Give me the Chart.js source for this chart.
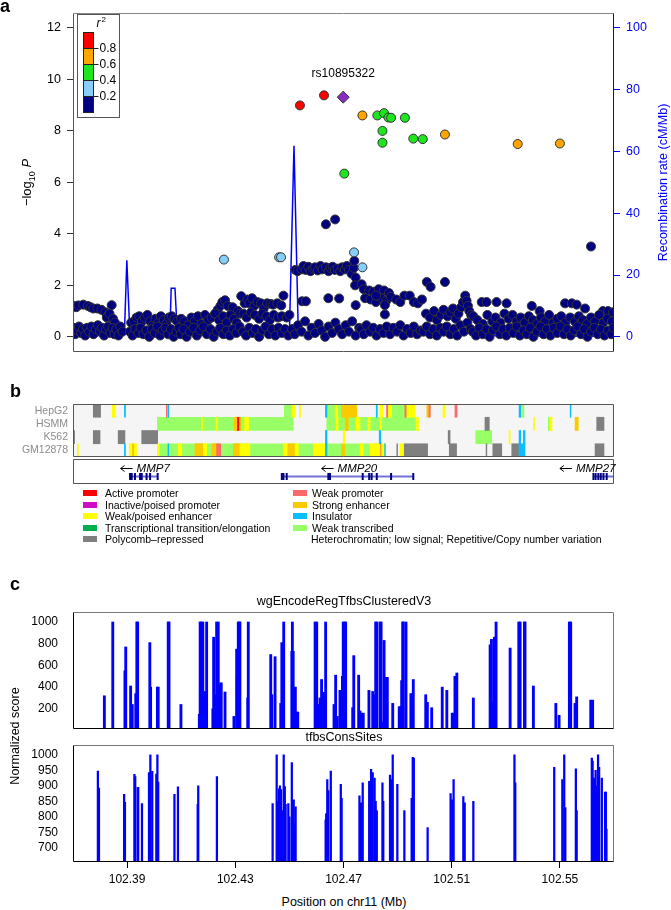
<!DOCTYPE html>
<html>
<head>
<meta charset="utf-8">
<script src="https://cdn.jsdelivr.net/npm/chart.js@4.4.1/dist/chart.umd.min.js"></script>
<style>
body { margin: 0; background: #fff; font-family: "Liberation Sans", Arial, sans-serif; }
#page { position: relative; width: 671px; height: 910px; overflow: hidden; }
canvas { position: absolute; left: 0; }
.txt { position: absolute; white-space: nowrap; color: #000; }
.panel { font-weight: bold; font-size: 18px; }
.leg { position: absolute; font-size: 10.5px; line-height: 12px; white-space: nowrap; }
.sw { position: absolute; width: 14px; height: 6px; }
</style>
</head>
<body>
<div id="page">
  <canvas id="gwas" width="671" height="366" style="top:0"></canvas>
  <canvas id="states" width="671" height="65" style="top:398px"></canvas>
  <canvas id="genes" width="671" height="30" style="top:457px"></canvas>
  <canvas id="tfbsTop" width="671" height="129" style="top:606px"></canvas>
  <canvas id="tfbsBottom" width="671" height="153" style="top:739px"></canvas>

  <div class="txt panel" style="left:0;top:-4px">a</div>
  <div class="txt panel" style="left:10px;top:381px">b</div>
  <div class="txt panel" style="left:10px;top:574px">c</div>

  <div id="legend"></div>

  <div class="txt" style="left:144px;width:400px;text-align:center;top:594px;font-size:12.5px">wgEncodeRegTfbsClusteredV3</div>
  <div class="txt" style="left:144px;width:400px;text-align:center;top:730px;font-size:12.5px">tfbsConsSites</div>
  <div class="txt" style="left:144px;width:400px;text-align:center;top:895px;font-size:12.5px">Position on chr11 (Mb)</div>
  <div class="txt" style="left:-85px;width:200px;text-align:center;top:729px;font-size:12.5px;transform:rotate(-90deg)">Normalized score</div>
</div>

<script>
// ---- region shown (Mb on chr11) ----
const regionStart = 102.37;
const regionEnd = 102.57;
const positionTicks = [102.39, 102.43, 102.47, 102.51, 102.55];

// ---- panel a: association, [position Mb, -log10 P] ----
const leadSnp = [[102.4699, 9.31]];
const ldRed = [[102.4539, 8.99], [102.4628, 9.38]];
const ldOrange = [[102.4770, 8.6], [102.5075, 7.86], [102.5344, 7.49], [102.5500, 7.51]];
const ldGreen = [[102.4825, 8.6], [102.4850, 8.69], [102.4866, 8.52], [102.4876, 8.51], [102.4927, 8.51],
  [102.4844, 8.0], [102.4844, 7.54], [102.4958, 7.7], [102.4993, 7.68], [102.4703, 6.34]];
const ldLightBlue = [[102.4258, 3.0], [102.4462, 3.09], [102.4469, 3.09], [102.4739, 3.28], [102.4770, 2.7]];
const ldNavy = [
  // left end
  [102.3700, 1.18], [102.3705, 1.2], [102.3712, 1.15], [102.3720, 1.22], [102.3738, 1.25], [102.3755, 1.2], [102.3765, 1.15],
  [102.3775, 1.1], [102.3790, 1.1], [102.3805, 1.05], [102.3843, 1.23], [102.3820, 0.95], [102.3830, 0.85], [102.3825, 0.75],
  [102.3835, 0.9], [102.3848, 0.7], [102.3855, 0.55],
  [102.3703, 0.35], [102.3708, 0.1], [102.3716, 0.25], [102.3722, 0.4], [102.3730, 0.15], [102.3737, 0.3], [102.3745, 0.05],
  [102.3752, 0.35], [102.3760, 0.2], [102.3768, 0.4], [102.3776, 0.1], [102.3784, 0.3], [102.3792, 0.45], [102.3800, 0.2],
  [102.3808, 0.35], [102.3815, 0.05], [102.3822, 0.3], [102.3830, 0.4], [102.3838, 0.15], [102.3846, 0.35], [102.3853, 0.1],
  [102.3860, 0.3], [102.3868, 0.05], [102.3875, 0.4], [102.3883, 0.2],
  // 102.39 - 102.41
  [102.3915, 0.55], [102.3925, 0.6], [102.3935, 0.75], [102.3945, 0.8], [102.3955, 0.6], [102.3965, 0.75], [102.3975, 0.85],
  [102.3985, 0.6], [102.3995, 0.45], [102.4005, 0.7], [102.4015, 0.55], [102.4025, 0.8], [102.4035, 0.65], [102.4045, 0.5],
  [102.4055, 0.75], [102.4065, 0.8], [102.4075, 0.7], [102.4085, 0.6],
  [102.3910, 0.2], [102.3920, 0.05], [102.3930, 0.3], [102.3942, 0.15], [102.3950, 0.35], [102.3960, 0.1], [102.3972, 0.25],
  [102.3982, 0.0], [102.3992, 0.3], [102.4002, 0.15], [102.4012, 0.4], [102.4022, 0.05], [102.4032, 0.25], [102.4042, 0.35],
  [102.4052, 0.1], [102.4062, 0.3], [102.4072, 0.0], [102.4082, 0.2], [102.4092, 0.35],
  // 102.41 - 102.432
  [102.4235, 1.05], [102.4245, 1.2], [102.4252, 1.35], [102.4262, 1.42], [102.4272, 1.2], [102.4290, 1.15], [102.4310, 1.0],
  [102.4322, 1.58],
  [102.4100, 0.7], [102.4112, 0.6], [102.4125, 0.45], [102.4138, 0.75], [102.4150, 0.6], [102.4162, 0.8], [102.4175, 0.5],
  [102.4188, 0.85], [102.4200, 0.65], [102.4212, 0.75], [102.4225, 0.9], [102.4240, 0.65], [102.4255, 0.8], [102.4268, 0.55],
  [102.4282, 0.85], [102.4295, 0.7], [102.4305, 0.55], [102.4318, 0.9],
  [102.4098, 0.1], [102.4108, 0.3], [102.4120, 0.0], [102.4132, 0.2], [102.4145, 0.35], [102.4158, 0.05], [102.4170, 0.25],
  [102.4182, 0.4], [102.4195, 0.1], [102.4208, 0.3], [102.4220, 0.0], [102.4232, 0.2], [102.4244, 0.35], [102.4256, 0.1],
  [102.4268, 0.25], [102.4280, 0.05], [102.4292, 0.3], [102.4304, 0.15], [102.4316, 0.4],
  // 102.432 - 102.45
  [102.4335, 1.3], [102.4345, 1.45], [102.4352, 1.3], [102.4362, 1.5], [102.4370, 1.2], [102.4382, 1.35], [102.4395, 1.3],
  [102.4405, 1.1], [102.4418, 1.3], [102.4430, 1.28], [102.4440, 1.25], [102.4455, 1.3], [102.4470, 1.22], [102.4478, 1.6],
  [102.4330, 0.9], [102.4342, 0.75], [102.4358, 0.95], [102.4372, 0.85], [102.4388, 0.7], [102.4400, 0.9], [102.4415, 0.8],
  [102.4428, 0.65], [102.4442, 0.85], [102.4458, 0.75], [102.4472, 0.8], [102.4490, 0.75], [102.4500, 0.85],
  [102.4328, 0.2], [102.4340, 0.05], [102.4352, 0.35], [102.4364, 0.15], [102.4376, 0.3], [102.4388, 0.0], [102.4400, 0.25],
  [102.4412, 0.4], [102.4424, 0.1], [102.4436, 0.3], [102.4448, 0.05], [102.4460, 0.35], [102.4472, 0.15], [102.4484, 0.3],
  [102.4496, 0.05],
  // band near the lead SNP
  [102.4522, 2.6], [102.4530, 2.55], [102.4545, 2.62], [102.4552, 2.75], [102.4560, 2.6], [102.4570, 2.72], [102.4578, 2.55],
  [102.4588, 2.65], [102.4595, 2.7], [102.4605, 2.58], [102.4615, 2.75], [102.4622, 2.62], [102.4635, 2.7], [102.4645, 2.55],
  [102.4652, 2.68], [102.4660, 2.72], [102.4668, 2.6], [102.4678, 2.65], [102.4688, 2.55], [102.4695, 2.7], [102.4705, 2.62],
  [102.4712, 2.75], [102.4720, 2.6], [102.4730, 2.45], [102.4738, 2.68], [102.4740, 2.95], [102.4745, 2.3],
  [102.4635, 4.37], [102.4669, 4.56],
  [102.4547, 1.38], [102.4561, 1.38], [102.4644, 1.5], [102.4684, 1.49], [102.4743, 2.0], [102.4767, 2.04], [102.4745, 1.23],
  [102.4510, 0.3], [102.4520, 0.1], [102.4532, 0.45], [102.4545, 0.2], [102.4558, 0.6], [102.4570, 0.05], [102.4582, 0.35],
  [102.4595, 0.15], [102.4608, 0.5], [102.4620, 0.25], [102.4632, 0.0], [102.4645, 0.4], [102.4658, 0.15], [102.4670, 0.55],
  [102.4682, 0.3], [102.4695, 0.1], [102.4708, 0.45], [102.4720, 0.2], [102.4732, 0.6], [102.4745, 0.05], [102.4758, 0.35],
  // 102.476 - 102.50
  [102.4775, 1.85], [102.4795, 1.8], [102.4810, 1.75], [102.4830, 1.85], [102.4850, 1.8], [102.4868, 1.7],
  [102.4780, 1.5], [102.4800, 1.45], [102.4820, 1.35], [102.4840, 1.5], [102.4858, 1.4], [102.4875, 1.55], [102.4895, 1.45],
  [102.4910, 1.35], [102.4925, 1.6], [102.4945, 1.6], [102.4960, 1.35], [102.4975, 1.3], [102.4853, 1.23], [102.4853, 0.87],
  [102.4820, 1.6], [102.4990, 1.45],
  [102.4765, 0.3], [102.4775, 0.1], [102.4785, 0.45], [102.4798, 0.2], [102.4810, 0.35], [102.4822, 0.05], [102.4835, 0.3],
  [102.4848, 0.15], [102.4860, 0.4], [102.4872, 0.1], [102.4885, 0.35], [102.4898, 0.2], [102.4910, 0.45], [102.4922, 0.05],
  [102.4935, 0.3], [102.4948, 0.15], [102.4960, 0.4], [102.4972, 0.1], [102.4985, 0.25],
  // 102.50 - 102.517
  [102.5008, 2.13], [102.5022, 1.94], [102.5075, 2.13],
  [102.5005, 0.9], [102.5020, 0.75], [102.5035, 1.0], [102.5045, 0.65], [102.5060, 0.85], [102.5070, 1.05], [102.5085, 0.8],
  [102.5095, 0.95], [102.5105, 1.1], [102.5115, 0.7], [102.5125, 0.9], [102.5135, 1.15], [102.5142, 1.35], [102.5150, 1.6],
  [102.5155, 1.4], [102.5160, 1.2], [102.5165, 1.0], [102.5172, 0.85],
  [102.4995, 0.2], [102.5008, 0.4], [102.5020, 0.1], [102.5032, 0.3], [102.5045, 0.05], [102.5058, 0.35], [102.5070, 0.2],
  [102.5082, 0.4], [102.5095, 0.1], [102.5108, 0.3], [102.5120, 0.05], [102.5132, 0.45], [102.5145, 0.2], [102.5158, 0.55],
  [102.5170, 0.3],
  // right part
  [102.5615, 3.51],
  [102.5211, 1.35], [102.5229, 1.35], [102.5266, 1.35], [102.5303, 1.3], [102.5396, 1.2], [102.5519, 1.3], [102.5544, 1.3],
  [102.5562, 1.25], [102.5593, 1.1], [102.5659, 1.0], [102.5678, 1.0], [102.5696, 0.95], [102.5425, 1.0],
  [102.5180, 0.8], [102.5195, 0.65], [102.5215, 0.5], [102.5232, 0.85], [102.5250, 0.6], [102.5262, 0.75], [102.5280, 0.55],
  [102.5295, 0.9], [102.5310, 0.7], [102.5325, 0.85], [102.5340, 0.6], [102.5355, 0.75], [102.5370, 0.55], [102.5385, 0.8],
  [102.5400, 0.65], [102.5415, 0.5], [102.5430, 0.75], [102.5445, 0.6], [102.5460, 0.85], [102.5475, 0.55], [102.5490, 0.7],
  [102.5505, 0.8], [102.5520, 0.55], [102.5538, 0.75], [102.5555, 0.6], [102.5570, 0.8], [102.5585, 0.65], [102.5600, 0.5],
  [102.5615, 0.75], [102.5630, 0.6], [102.5645, 0.85], [102.5660, 0.55], [102.5675, 0.7], [102.5692, 0.6],
  [102.5178, 0.2], [102.5190, 0.05], [102.5202, 0.35], [102.5215, 0.1], [102.5228, 0.3], [102.5240, 0.0], [102.5252, 0.25],
  [102.5265, 0.4], [102.5278, 0.1], [102.5290, 0.3], [102.5302, 0.05], [102.5315, 0.35], [102.5328, 0.15], [102.5340, 0.4],
  [102.5352, 0.05], [102.5365, 0.25], [102.5378, 0.1], [102.5390, 0.35], [102.5402, 0.0], [102.5415, 0.2], [102.5428, 0.4],
  [102.5440, 0.1], [102.5452, 0.3], [102.5465, 0.05], [102.5478, 0.35], [102.5490, 0.15], [102.5502, 0.4], [102.5515, 0.1],
  [102.5528, 0.3], [102.5540, 0.05], [102.5552, 0.25], [102.5565, 0.4], [102.5578, 0.1], [102.5590, 0.3], [102.5602, 0.0],
  [102.5615, 0.2], [102.5628, 0.35], [102.5640, 0.1], [102.5652, 0.3], [102.5665, 0.05], [102.5678, 0.25], [102.5690, 0.1],
  [102.5698, 0.35]
];

// recombination rate (cM/Mb)
const recombPos = [102.3700, 102.3836, 102.3841, 102.3846, 102.3890, 102.3899, 102.3910, 102.3925, 102.4058, 102.4063,
  102.4077, 102.4086, 102.4200, 102.4350, 102.4500, 102.4517, 102.4533, 102.4620, 102.4700, 102.4760, 102.4790, 102.4900,
  102.4950, 102.4958, 102.5020, 102.5035, 102.5045, 102.5140, 102.5150, 102.5170, 102.5300, 102.5700];
const recombRate = [0.6, 0.6, 11.0, 1.0, 0.8, 24.8, 1.5, 0.5, 0.5, 15.7, 15.7, 0.6, 0.5, 1.2, 1.2, 61.8, 1.0, 0.8, 1.5, 1.0,
  0.5, 0.8, 2.0, 0.4, 0.5, 1.5, 0.4, 0.6, 2.5, 0.5, 0.3, 0.2];

const logPTicks = [0, 2, 4, 6, 8, 10, 12];
const recombTicks = [0, 20, 40, 60, 80, 100];
const ldBreaks = ['0.2', '0.4', '0.6', '0.8'];
const ldColors = ['#000080', '#87CEFA', '#1EE61E', '#FFA500', '#FF0000'];

// ---- panel b: chromatin states, [state, start Mb, end Mb] ----
const cellLines = ['HepG2', 'HSMM', 'K562', 'GM12878'];
const hepg2States = [
  ['PR', 102.3775, 102.3802], ['WE', 102.3845, 102.3855], ['IN', 102.3890, 102.3894], ['PW', 102.4045, 102.4048],
  ['IN', 102.4051, 102.4054], ['WT', 102.4481, 102.4508], ['WE', 102.4508, 102.4521], ['WE', 102.4537, 102.4541],
  ['IN', 102.4633, 102.4639], ['WT', 102.4639, 102.4693], ['WE', 102.4669, 102.4678], ['SE', 102.4693, 102.4749],
  ['IN', 102.4821, 102.4825], ['WE', 102.4835, 102.4847], ['PW', 102.4859, 102.4866], ['WE', 102.4866, 102.4878],
  ['WT', 102.4878, 102.4927], ['PW', 102.4927, 102.4934], ['WE', 102.4934, 102.4964], ['SE', 102.5008, 102.5016],
  ['PW', 102.5016, 102.5021], ['WE', 102.5068, 102.5075], ['PW', 102.5112, 102.5120], ['IN', 102.5349, 102.5355],
  ['WT', 102.5355, 102.5367], ['IN', 102.5538, 102.5541]
];
const hsmmStates = [
  ['WT', 102.4012, 102.4514], ['WE', 102.4175, 102.4179], ['WE', 102.4229, 102.4234], ['SE', 102.4295, 102.4321],
  ['PA', 102.4308, 102.4313], ['WE', 102.4334, 102.4349], ['WT', 102.4638, 102.4977], ['WE', 102.4672, 102.4680],
  ['SE', 102.4706, 102.4718], ['WE', 102.4746, 102.4761], ['WE', 102.4790, 102.4798], ['WE', 102.4835, 102.4840],
  ['WE', 102.4968, 102.4977], ['PR', 102.5223, 102.5239], ['WE', 102.5402, 102.5406], ['WT', 102.5457, 102.5467],
  ['WE', 102.5463, 102.5471], ['SE', 102.5556, 102.5568], ['PR', 102.5636, 102.5663]
];
const k562States = [
  ['PR', 102.3700, 102.3706], ['PR', 102.3775, 102.3800], ['PR', 102.3867, 102.3892], ['PR', 102.3954, 102.4013],
  ['IN', 102.4633, 102.4639], ['WE', 102.4699, 102.4706], ['IN', 102.4832, 102.4838], ['PR', 102.5087, 102.5094],
  ['WT', 102.5189, 102.5248], ['WE', 102.5312, 102.5316], ['IN', 102.5349, 102.5355], ['IN', 102.5365, 102.5371]
];
const gm12878States = [
  ['WE', 102.3716, 102.3720], ['IN', 102.3890, 102.3894], ['WE', 102.3908, 102.3917], ['SE', 102.3917, 102.3927],
  ['WE', 102.3927, 102.3935], ['WT', 102.4012, 102.4588], ['WE', 102.4012, 102.4019], ['IN', 102.4051, 102.4054],
  ['WE', 102.4089, 102.4102], ['SE', 102.4151, 102.4182], ['WE', 102.4182, 102.4194], ['SE', 102.4213, 102.4231],
  ['PW', 102.4231, 102.4246], ['SE', 102.4293, 102.4317], ['WE', 102.4317, 102.4354], ['WE', 102.4477, 102.4490],
  ['SE', 102.4496, 102.4521], ['WE', 102.4521, 102.4533], ['WE', 102.4588, 102.4632], ['IN', 102.4633, 102.4639],
  ['WT', 102.4639, 102.4798], ['SE', 102.4693, 102.4706], ['WE', 102.4761, 102.4773], ['WE', 102.4798, 102.4835],
  ['SE', 102.4811, 102.4824], ['PW', 102.4835, 102.4841], ['WE', 102.4841, 102.4853], ['IN', 102.4852, 102.4855],
  ['PR', 102.4897, 102.4900], ['WE', 102.4909, 102.4921], ['PR', 102.4924, 102.5011], ['PR', 102.5091, 102.5118],
  ['PR', 102.5227, 102.5230], ['PR', 102.5252, 102.5285], ['PR', 102.5322, 102.5349], ['IN', 102.5349, 102.5371],
  ['PR', 102.5630, 102.5663]
];
const stateKeys = ['PA', 'PP', 'WE', 'TT', 'PR', 'PW', 'SE', 'IN', 'WT', 'HC'];
const stateNames = ['Active promoter', 'Inactive/poised promoter', 'Weak/poised enhancer', 'Transcriptional transition/elongation',
  'Polycomb\u2013repressed', 'Weak promoter', 'Strong enhancer', 'Insulator', 'Weak transcribed',
  'Heterochromatin; low signal; Repetitive/Copy number variation'];
const stateColors = ['#FF0000', '#CF0BC6', '#FFFF00', '#00B050', '#7F7F7F', '#FF6969', '#FACA00', '#0ABEFE', '#99FF66', '#F5F5F5'];

// genes: name, start, end, exons, label anchor
const geneNames = ['MMP7', 'MMP20', 'MMP27'];
const geneStart = [102.3908, 102.4472, 102.5624];
const geneEnd = [102.4013, 102.4958, 102.5700];
const geneExons = [
  [102.3911, 102.3917, 102.3929, 102.3948, 102.3954, 102.3972, 102.3985, 102.4013],
  [102.4472, 102.4478, 102.4490, 102.4644, 102.4650, 102.4771, 102.4795, 102.4804, 102.4823, 102.4876, 102.4958],
  [102.5624, 102.5632, 102.5642, 102.5651, 102.5661, 102.5673]
];
const geneLabelAt = [102.3876, 102.4619, 102.5500];

// ---- panel c: TFBS tracks ----
const clusterPos = [102.3816, 102.3847, 102.3892, 102.3895, 102.3913, 102.3919, 102.3932, 102.3936, 102.3939, 102.3984,
  102.3987, 102.4012, 102.4015, 102.4052, 102.4055, 102.4099, 102.4167, 102.4170, 102.4174, 102.4180, 102.4188, 102.4194,
  102.4217, 102.4220, 102.4225, 102.4231, 102.4237, 102.4241, 102.4245, 102.4248, 102.4262, 102.4295, 102.4305, 102.4307,
  102.4311, 102.4315, 102.4317, 102.4346, 102.4348, 102.4431, 102.4435, 102.4447, 102.4468, 102.4472, 102.4475, 102.4479,
  102.4509, 102.4511, 102.4514, 102.4518, 102.4522, 102.4527, 102.4531, 102.4595, 102.4601, 102.4607, 102.4613, 102.4619,
  102.4623, 102.4628, 102.4634, 102.4665, 102.4671, 102.4677, 102.4687, 102.4691, 102.4696, 102.4699, 102.4704, 102.4708,
  102.4734, 102.4738, 102.4756, 102.4761, 102.4767, 102.4773, 102.4794, 102.4808, 102.4813, 102.4819, 102.4823, 102.4835,
  102.4839, 102.4844, 102.4850, 102.4857, 102.4862, 102.4882, 102.4906, 102.4911, 102.4915, 102.4919, 102.4921, 102.4931,
  102.4949, 102.4953, 102.4958, 102.5004, 102.5010, 102.5026, 102.5065, 102.5082, 102.5102, 102.5106, 102.5112, 102.5119,
  102.5180, 102.5242, 102.5247, 102.5252, 102.5258, 102.5264, 102.5316, 102.5348, 102.5353, 102.5369, 102.5371, 102.5402,
  102.5485, 102.5497, 102.5535, 102.5540, 102.5556, 102.5562, 102.5614, 102.5621];
const clusterScore = [320, 1000, 550, 770, 410, 240, 340, 1000, 1000, 810,
  400, 400, 400, 1000, 1000, 240, 150, 1000, 1000, 1000, 360, 1000,
  200, 860, 330, 1000, 1000, 170, 430, 440, 355, 130, 750, 500,
  1000, 1000, 1000, 300, 1000, 700, 330, 680, 250, 810, 300, 1000,
  730, 1000, 730, 200, 400, 170, 170, 1000, 1000, 240, 300, 470,
  350, 350, 1000, 240, 510, 130, 370, 370, 500, 1000, 1000, 1000,
  210, 690, 510, 180, 160, 160, 370, 360, 330, 1000, 1000, 1000,
  1000, 80, 830, 490, 490, 250, 220, 220, 460, 1000, 1000, 1000,
  340, 340, 470, 330, 260, 210, 400, 370, 160, 160, 500, 530,
  300, 790, 840, 260, 860, 1000, 760, 1000, 1000, 1000, 1000, 410,
  250, 140, 1000, 1000, 250, 310, 280, 280];
const consPos = [102.3792, 102.3796, 102.3889, 102.3892, 102.3927, 102.3930, 102.3939, 102.3941, 102.3955, 102.3981,
  102.3986, 102.3993, 102.4008, 102.4012, 102.4015, 102.4075, 102.4088, 102.4161, 102.4163, 102.4232, 102.4438, 102.4453,
  102.4457, 102.4462, 102.4465, 102.4469, 102.4475, 102.4479, 102.4483, 102.4486, 102.4496, 102.4500, 102.4509, 102.4512,
  102.4516, 102.4520, 102.4523, 102.4634, 102.4636, 102.4640, 102.4644, 102.4653, 102.4690, 102.4693, 102.4759, 102.4765,
  102.4771, 102.4795, 102.4799, 102.4802, 102.4808, 102.4815, 102.4819, 102.4823, 102.4844, 102.4847, 102.4872, 102.4876,
  102.4882, 102.4899, 102.4925, 102.4952, 102.4956, 102.4960, 102.5011, 102.5096, 102.5102, 102.5107, 102.5143, 102.5148,
  102.5180, 102.5332, 102.5335, 102.5479, 102.5509, 102.5516, 102.5520, 102.5559, 102.5562, 102.5618, 102.5621, 102.5626,
  102.5632, 102.5636, 102.5641, 102.5645, 102.5655, 102.5667, 102.5670, 102.5672];
const consScore = [948, 893, 873, 847, 937, 930, 895, 895, 843, 943,
  1000, 947, 938, 1000, 912, 873, 897, 840, 900, 930, 843, 1000,
  850, 890, 900, 888, 820, 1000, 898, 840, 843, 800, 975, 850,
  855, 773, 832, 790, 810, 920, 885, 948, 905, 860, 868, 845,
  910, 915, 858, 953, 943, 925, 850, 820, 910, 850, 935, 920,
  1000, 905, 820, 860, 992, 990, 765, 875, 855, 920, 865, 845,
  850, 1000, 910, 960, 920, 1000, 830, 955, 820, 990, 980, 925,
  950, 900, 1000, 960, 925, 880, 880, 760];
const clusterTicks = [200, 400, 600, 800, 1000];
const consTicks = [700, 750, 800, 850, 900, 950, 1000];

// ---------------------------------------------------------------
Chart.defaults.font.family = '"Liberation Sans", Arial, sans-serif';
Chart.defaults.font.size = 12;
Chart.defaults.color = '#000';
Chart.defaults.animation = false;
Chart.defaults.layout.autoPadding = false;
Chart.defaults.plugins.legend.display = false;
Chart.defaults.plugins.tooltip.enabled = false;

const FONT = '"Liberation Sans", Arial, sans-serif';
const toXY = pts => pts.map(p => ({ x: p[0], y: p[1] }));
const setTicks = list => scale => { scale.ticks = list.map(v => ({ value: v })); };
const fixWidth = w => scale => { scale.width = w; };
const fixHeight = h => scale => { scale.height = h; };

function box(ctx, a, top, right, bottom, left) {
  const l = Math.round(a.left) + 0.5, r = Math.round(a.right) - 0.5;
  const t = Math.round(a.top) + 0.5, b = Math.round(a.bottom) - 0.5;
  ctx.lineWidth = 1;
  [[top, l, t, r, t], [right, r, t, r, b], [bottom, l, b, r, b], [left, l, t, l, b]].forEach(s => {
    if (!s[0]) return;
    ctx.strokeStyle = s[0];
    ctx.beginPath(); ctx.moveTo(s[1], s[2]); ctx.lineTo(s[3], s[4]); ctx.stroke();
  });
}

// ---------------- panel a ----------------
const gwasDecor = {
  id: 'gwasDecor',
  afterDraw(chart) {
    const { ctx, chartArea: a, scales } = chart;
    ctx.save();
    box(ctx, a, '#888', '#0000FF', '#555', '#555');

    // lead snp label
    const lx = scales.x.getPixelForValue(leadSnp[0][0]);
    const ly = scales.y.getPixelForValue(leadSnp[0][1]);
    ctx.fillStyle = '#000';
    ctx.font = '12px ' + FONT;
    ctx.textAlign = 'center';
    ctx.textBaseline = 'middle';
    ctx.fillText('rs10895322', lx, ly - 23);

    // left axis title: -log10 P
    ctx.save();
    ctx.translate(27, (a.top + a.bottom) / 2);
    ctx.rotate(-Math.PI / 2);
    ctx.textAlign = 'left';
    ctx.textBaseline = 'alphabetic';
    ctx.font = '13px ' + FONT;
    const w1 = ctx.measureText('\u2212log').width;
    ctx.font = '9px ' + FONT;
    const w2 = ctx.measureText('10').width;
    ctx.font = 'italic 13px ' + FONT;
    const w3 = ctx.measureText(' P').width;
    const x0 = -(w1 + w2 + w3) / 2;
    ctx.font = '13px ' + FONT;
    ctx.fillText('\u2212log', x0, 4);
    ctx.font = '9px ' + FONT;
    ctx.fillText('10', x0 + w1, 8);
    ctx.font = 'italic 13px ' + FONT;
    ctx.fillText(' P', x0 + w1 + w2, 4);
    ctx.restore();

    // right axis title
    ctx.save();
    ctx.translate(664, (a.top + a.bottom) / 2);
    ctx.rotate(-Math.PI / 2);
    ctx.fillStyle = '#0000FF';
    ctx.font = '12.5px ' + FONT;
    ctx.textAlign = 'center';
    ctx.textBaseline = 'middle';
    ctx.fillText('Recombination rate (cM/Mb)', 0, 0);
    ctx.restore();

    // r2 colour key
    const bx = a.left + 4.5, by = a.top + 1.5;
    ctx.fillStyle = '#fff';
    ctx.fillRect(bx, by, 42, 103);
    ctx.strokeStyle = '#555';
    ctx.strokeRect(bx, by, 42, 103);
    const cell = 16, barX = bx + 6, barTop = by + 18;
    ldColors.slice().reverse().forEach((c, i) => {
      ctx.fillStyle = c;
      ctx.fillRect(barX, barTop + i * cell, 10, cell);
      ctx.strokeStyle = '#222';
      ctx.strokeRect(barX, barTop + i * cell, 10, cell);
    });
    ctx.fillStyle = '#000';
    ctx.font = '12px ' + FONT;
    ctx.textAlign = 'left';
    ctx.textBaseline = 'middle';
    ldBreaks.slice().reverse().forEach((t, i) => {
      const ty = barTop + (i + 1) * cell;
      ctx.beginPath(); ctx.moveTo(barX + 10, ty); ctx.lineTo(barX + 15, ty); ctx.stroke();
      ctx.fillText(t, barX + 16, ty);
    });
    ctx.font = 'italic 12px ' + FONT;
    ctx.fillText('r', bx + 19, by + 9);
    ctx.font = '8px ' + FONT;
    ctx.fillText('2', bx + 24, by + 5);
    ctx.restore();
  }
};

const pointStyle = (color, order) => ({
  backgroundColor: color, borderColor: '#333', borderWidth: 1,
  pointRadius: 4.5, pointHoverRadius: 4.5, order: order, yAxisID: 'y'
});

new Chart(document.getElementById('gwas'), {
  type: 'scatter',
  data: {
    datasets: [
      { data: recombPos.map((p, i) => ({ x: p, y: recombRate[i] })), yAxisID: 'y1', showLine: true,
        borderColor: '#0000FF', borderWidth: 1.5, pointRadius: 0, order: 9 },
      Object.assign({ data: toXY(ldNavy) }, pointStyle('#000080', 7)),
      Object.assign({ data: toXY(ldLightBlue) }, pointStyle('#87CEFA', 6)),
      Object.assign({ data: toXY(ldGreen) }, pointStyle('#1EE61E', 5)),
      Object.assign({ data: toXY(ldOrange) }, pointStyle('#FFA500', 4)),
      Object.assign({ data: toXY(ldRed) }, pointStyle('#FF0000', 3)),
      Object.assign({ data: toXY(leadSnp) }, pointStyle('#8A2BC2', 1), { pointStyle: 'rectRot', pointRadius: 6 })
    ]
  },
  options: {
    responsive: false,
    layout: { padding: { top: 13, bottom: 14, left: 0, right: 0 } },
    scales: {
      x: { type: 'linear', min: regionStart, max: regionEnd, display: false },
      y: {
        position: 'left', min: -0.59, max: 12.58,
        afterBuildTicks: setTicks(logPTicks), afterFit: fixWidth(73),
        grid: { drawOnChartArea: false, drawTicks: true, tickLength: 6, color: '#333' },
        border: { display: false },
        ticks: { padding: 6, font: { size: 12.5, lineHeight: 1 }, color: '#000' }
      },
      y1: {
        position: 'right', min: -4.92, max: 104.8,
        afterBuildTicks: setTicks(recombTicks), afterFit: fixWidth(57),
        grid: { drawOnChartArea: false, drawTicks: true, tickLength: 6, color: '#0000FF' },
        border: { display: false },
        ticks: { padding: 6, font: { size: 12.5, lineHeight: 1 }, color: '#0000FF' }
      }
    }
  },
  plugins: [gwasDecor]
});

// ---------------- panel b: chromatin states ----------------
const stateRows = [hepg2States, hsmmStates, k562States, gm12878States];
const layerOrder = { WT: 30, PR: 29, HC: 31, IN: 1 };
const stateDatasets = stateKeys.map((key, k) => ({
  data: stateRows.flatMap((segs, r) => segs.filter(s => s[0] === key)
    .map(s => ({ y: cellLines[r], x: [s[1], s[2]] }))),
  backgroundColor: stateColors[k],
  borderWidth: 0,
  grouped: false,
  barPercentage: 1,
  categoryPercentage: 1,
  order: layerOrder[key] || 10 + k
}));

const statesDecor = {
  id: 'statesDecor',
  beforeDatasetsDraw(chart) {
    const { ctx, chartArea: a } = chart;
    ctx.save();
    ctx.fillStyle = stateColors[stateKeys.indexOf('HC')];
    ctx.fillRect(a.left, a.top, a.right - a.left, a.bottom - a.top);
    ctx.restore();
  },
  afterDraw(chart) {
    const { ctx, chartArea: a } = chart;
    ctx.save();
    box(ctx, a, '#555', '#555', '#555', '#555');
    ctx.restore();
  }
};

new Chart(document.getElementById('states'), {
  type: 'bar',
  data: { labels: cellLines, datasets: stateDatasets },
  options: {
    responsive: false,
    indexAxis: 'y',
    layout: { padding: { top: 6, bottom: 6, left: 0, right: 57 } },
    scales: {
      x: { type: 'linear', min: regionStart, max: regionEnd, display: false },
      y: {
        type: 'category', afterFit: fixWidth(73),
        grid: { drawOnChartArea: false, drawTicks: true, tickLength: 5, color: 'rgba(0,0,0,0)' },
        border: { display: false },
        ticks: { padding: 0, autoSkip: false, color: '#8C8C8C', font: { size: 10.5, lineHeight: 1 } }
      }
    }
  },
  plugins: [statesDecor]
});

// ---------------- panel b: genes ----------------
const geneLineY = 0.3, geneLabelY = 0.62;
const geneDatasets = [];
geneNames.forEach((g, i) => {
  geneDatasets.push({
    data: [{ x: geneStart[i], y: geneLineY }, { x: geneEnd[i], y: geneLineY }],
    showLine: true, borderColor: '#7272D6', borderWidth: 2, pointRadius: 0, order: 2
  });
  geneDatasets.push({
    data: geneExons[i].map(e => ({ x: e, y: geneLineY })),
    pointStyle: 'line', rotation: 90, pointRadius: 3.5, borderColor: '#000080', borderWidth: 2, order: 1
  });
});

const genesDecor = {
  id: 'genesDecor',
  afterDraw(chart) {
    const { ctx, chartArea: a, scales } = chart;
    ctx.save();
    box(ctx, a, '#555', '#555', '#555', '#555');
    const y = scales.y.getPixelForValue(geneLabelY);
    ctx.fillStyle = '#000';
    ctx.strokeStyle = '#000';
    ctx.lineWidth = 1;
    geneNames.forEach((g, i) => {
      const x = scales.x.getPixelForValue(geneLabelAt[i]);
      ctx.beginPath();
      ctx.moveTo(x, y); ctx.lineTo(x + 12, y);
      ctx.moveTo(x + 4, y - 3); ctx.lineTo(x, y); ctx.lineTo(x + 4, y + 3);
      ctx.stroke();
      ctx.font = 'italic 11.5px ' + FONT;
      ctx.textBaseline = 'middle';
      ctx.textAlign = 'left';
      ctx.fillText(g, x + 16, y);
    });
    ctx.restore();
  }
};

new Chart(document.getElementById('genes'), {
  type: 'scatter',
  data: { datasets: geneDatasets },
  options: {
    responsive: false,
    layout: { padding: { top: 2, bottom: 3, left: 73, right: 57 } },
    scales: {
      x: { type: 'linear', min: regionStart, max: regionEnd, display: false },
      y: { type: 'linear', min: 0, max: 1, display: false }
    }
  },
  plugins: [genesDecor]
});

// legend of chromatin states
(function () {
  const leg = document.getElementById('legend');
  const rowsY = [487, 498.6, 510.2, 521.8, 533.4];
  stateKeys.forEach((key, k) => {
    const col = k < 5 ? 0 : 1;
    const y = rowsY[k % 5];
    const sx = col ? 293 : 83;
    const tx = col ? 312 : 105;
    if (key !== 'HC') {
      const sw = document.createElement('div');
      sw.className = 'sw';
      sw.style.left = sx + 'px';
      sw.style.top = (y + 3) + 'px';
      sw.style.background = stateColors[k];
      leg.appendChild(sw);
    }
    const t = document.createElement('div');
    t.className = 'leg';
    t.style.left = (key === 'HC' ? 311 : tx) + 'px';
    t.style.top = y + 'px';
    t.textContent = stateNames[k];
    leg.appendChild(t);
  });
})();

// ---------------- panel c ----------------
const tfbsDecor = {
  id: 'tfbsDecor',
  afterDraw(chart) {
    const { ctx, chartArea: a } = chart;
    ctx.save();
    box(ctx, a, '#777', '#777', '#000', '#000');
    ctx.restore();
  }
};

const trackOptions = (min, max, ticks, showX) => ({
  responsive: false,
  layout: { padding: showX ? { top: 6, bottom: 0, left: 0, right: 57 } : { top: 6, bottom: 6, left: 0, right: 57 } },
  scales: {
    x: showX ? {
      type: 'linear', min: regionStart, max: regionEnd, offset: false,
      afterBuildTicks: setTicks(positionTicks), afterFit: fixHeight(30),
      grid: { drawOnChartArea: false, drawTicks: true, tickLength: 6, color: '#000', offset: false },
      border: { display: false },
      ticks: { padding: 4, maxRotation: 0, autoSkip: false, font: { size: 12 }, callback: v => v.toFixed(2) }
    } : { type: 'linear', min: regionStart, max: regionEnd, offset: false, display: false },
    y: {
      min: min, max: max,
      afterBuildTicks: setTicks(ticks), afterFit: fixWidth(73),
      grid: { drawOnChartArea: false, drawTicks: true, tickLength: 15, color: 'rgba(0,0,0,0)' },
      border: { display: false },
      ticks: { padding: 0, autoSkip: false, font: { size: 12, lineHeight: 1 }, callback: v => String(v) }
    }
  }
});

new Chart(document.getElementById('tfbsTop'), {
  type: 'bar',
  data: { datasets: [{ data: clusterPos.map((p, i) => ({ x: p, y: clusterScore[i] })),
    backgroundColor: '#0000FF', barThickness: 2.2, borderWidth: 0 }] },
  options: trackOptions(14, 1092, clusterTicks, false),
  plugins: [tfbsDecor]
});

new Chart(document.getElementById('tfbsBottom'), {
  type: 'bar',
  data: { datasets: [{ data: consPos.map((p, i) => ({ x: p, y: consScore[i] })),
    backgroundColor: '#0000FF', barThickness: 1.6, borderWidth: 0 }] },
  options: trackOptions(654, 1032, consTicks, true),
  plugins: [tfbsDecor]
});
</script>
</body>
</html>
